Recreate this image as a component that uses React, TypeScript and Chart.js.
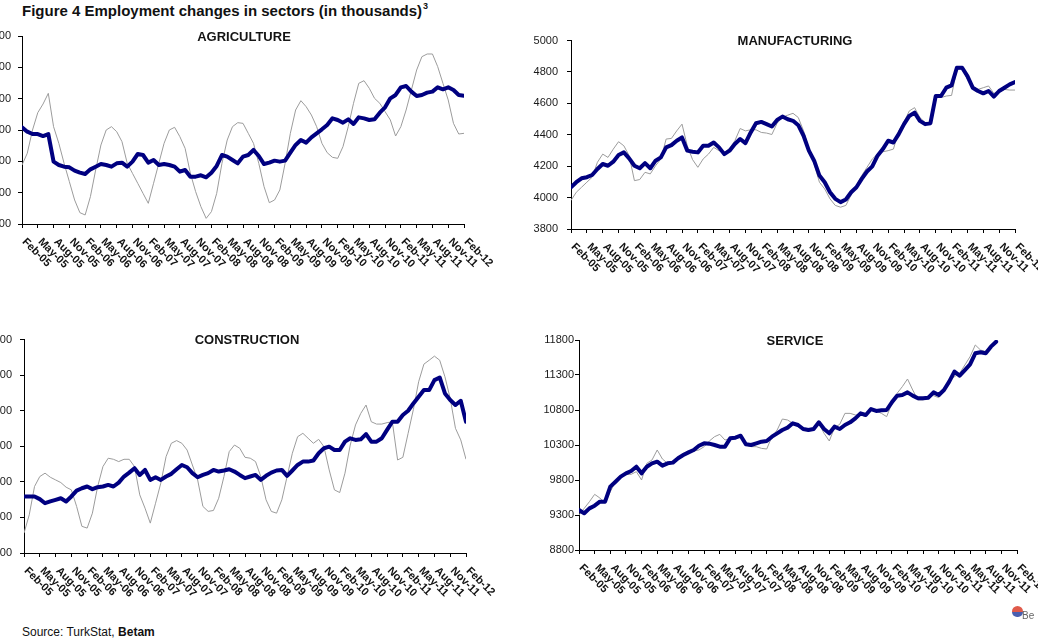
import React, { useEffect, useRef } from 'react';
import { Chart, registerables } from 'chart.js';

Chart.register(...registerables);

const quarterLabels = [
  'Feb-05', 'May-05', 'Aug-05', 'Nov-05', 'Feb-06', 'May-06', 'Aug-06', 'Nov-06',
  'Feb-07', 'May-07', 'Aug-07', 'Nov-07', 'Feb-08', 'May-08', 'Aug-08', 'Nov-08',
  'Feb-09', 'May-09', 'Aug-09', 'Nov-09', 'Feb-10', 'May-10', 'Aug-10', 'Nov-10',
  'Feb-11', 'May-11', 'Aug-11', 'Nov-11', 'Feb-12',
];

// Agriculture (thousands): raw and seasonally adjusted, monthly Feb-05 .. Feb-12
const agriRaw = [
  4941, 5128, 5500, 5777, 5915, 6085, 5553, 5287, 4968, 4676,
  4383, 4181, 4144, 4436, 4862, 5261, 5500, 5553, 5473, 5314,
  4968, 4808, 4649, 4489, 4330, 4649, 4968, 5287, 5500, 5543,
  5394, 5207, 4808, 4516, 4277, 4090, 4197, 4489, 4968, 5340,
  5553, 5617, 5606, 5447, 5287, 4968, 4596, 4340, 4383, 4543,
  4968, 5447, 5819, 5968, 5872, 5739, 5553, 5287, 5138, 5064,
  5048, 5234, 5553, 5926, 6245, 6287, 6165, 6005, 5926, 5793,
  5660, 5404, 5553, 5819, 6138, 6457, 6670, 6713, 6713, 6511,
  6245, 5979, 5606, 5436, 5447,
];
const agriSA = [
  5543, 5473, 5436, 5436, 5404, 5436, 4995, 4941, 4915, 4904,
  4851, 4819, 4798, 4872, 4915, 4957, 4941, 4915, 4968, 4979,
  4915, 4995, 5117, 5101, 4979, 5021, 4941, 4957, 4941, 4915,
  4835, 4862, 4755, 4755, 4777, 4745, 4819, 4926, 5101, 5075,
  5021, 4968, 5075, 5101, 5181, 5085, 4957, 4979, 5011, 4995,
  5011, 5138, 5261, 5340, 5298, 5383, 5447, 5511, 5580, 5686,
  5660, 5617, 5670, 5596, 5702, 5686, 5660, 5670, 5777, 5862,
  6005, 6059, 6181, 6202, 6112, 6043, 6059, 6096, 6112, 6181,
  6149, 6181, 6138, 6059, 6048,
];

// Manufacturing
const manuRaw = [
  3982, 4034, 4066, 4098, 4130, 4225, 4277, 4256, 4309, 4356,
  4330, 4267, 4108, 4115, 4161, 4151, 4203, 4246, 4373, 4377,
  4425, 4468, 4330, 4242, 4193, 4246, 4277, 4320, 4299, 4288,
  4313, 4362, 4440, 4425, 4432, 4432, 4415, 4411, 4402, 4474,
  4510, 4525, 4537, 4510, 4425, 4309, 4214, 4098, 4055, 3992,
  3950, 3939, 3950, 4017, 4077, 4140, 4193, 4246, 4277, 4292,
  4299, 4309, 4425, 4482, 4552, 4573, 4510, 4478, 4482, 4647,
  4637, 4647, 4651, 4816, 4820, 4753, 4711, 4689, 4700, 4711,
  4664, 4672, 4689, 4685, 4685,
];
const manuSA = [
  4066, 4098, 4123, 4130, 4144, 4182, 4214, 4203, 4229, 4271,
  4288, 4250, 4203, 4187, 4220, 4187, 4235, 4256, 4320, 4334,
  4362, 4383, 4299, 4292, 4288, 4330, 4330, 4351, 4320, 4277,
  4299, 4341, 4373, 4347, 4415, 4474, 4482, 4468, 4453, 4495,
  4516, 4499, 4489, 4461, 4394, 4299, 4235, 4140, 4098, 4034,
  3992, 3971, 3988, 4034, 4066, 4119, 4166, 4199, 4267, 4309,
  4362, 4351, 4404, 4468, 4520, 4541, 4489, 4468, 4474, 4647,
  4647, 4700, 4715, 4827, 4827, 4774, 4700, 4679, 4664, 4679,
  4643, 4679, 4700, 4721, 4736,
];

// Construction
const consRaw = [
  912, 1015, 1174, 1230, 1249, 1226, 1211, 1196, 1170, 1155,
  1062, 950, 940, 1024, 1174, 1286, 1333, 1327, 1314, 1327,
  1327, 1286, 1127, 1052, 968, 1080, 1193, 1342, 1417, 1432,
  1417, 1379, 1295, 1211, 1062, 1034, 1039, 1108, 1230, 1370,
  1407, 1389, 1338, 1333, 1314, 1230, 1099, 1034, 1024, 1099,
  1230, 1361, 1454, 1473, 1445, 1417, 1439, 1398, 1267, 1155,
  1140, 1249, 1407, 1520, 1585, 1632, 1538, 1525, 1525, 1533,
  1538, 1323, 1338, 1473, 1607, 1763, 1862, 1884, 1907, 1884,
  1791, 1669, 1501, 1436, 1327,
];
const consSA = [
  1118, 1118, 1118, 1103, 1080, 1090, 1099, 1108, 1090, 1118,
  1151, 1164, 1174, 1159, 1170, 1174, 1183, 1174, 1196, 1230,
  1252, 1277, 1239, 1267, 1211, 1226, 1211, 1230, 1245, 1271,
  1295, 1282, 1249, 1226, 1239, 1249, 1267, 1258, 1264, 1271,
  1258, 1239, 1221, 1230, 1239, 1211, 1234, 1252, 1264, 1267,
  1234, 1264, 1295, 1314, 1314, 1320, 1361, 1389, 1398, 1379,
  1379, 1426, 1445, 1436, 1439, 1469, 1426, 1426, 1445, 1492,
  1538, 1538, 1576, 1600, 1641, 1679, 1716, 1716, 1772, 1787,
  1697, 1660, 1632, 1656, 1538,
];

// Service (ends Oct-11)
const servRaw = [
  9300, 9395, 9490, 9595, 9543, 9467, 9633, 9776, 9848, 9881,
  9881, 9919, 9800, 10038, 10086, 10229, 10100, 10038, 10062, 10119,
  10181, 10195, 10214, 10229, 10276, 10357, 10419, 10452, 10371, 10395,
  10405, 10443, 10300, 10276, 10276, 10252, 10243, 10419, 10514, 10671,
  10657, 10610, 10562, 10514, 10514, 10529, 10610, 10467, 10357, 10548,
  10595, 10752, 10752, 10729, 10729, 10705, 10800, 10786, 10752, 10705,
  10895, 11038, 11133, 11243, 11086, 10943, 10943, 11005, 11005, 10976,
  11062, 11229, 11276, 11324, 11443, 11562, 11729, 11657, 11633, 11705,
  11776,
];
const servSA = [
  9371, 9324, 9395, 9433, 9490, 9490, 9705, 9776, 9848, 9895,
  9929, 9990, 9895, 9990, 10038, 10062, 10005, 10038, 10048, 10110,
  10157, 10195, 10229, 10290, 10324, 10319, 10300, 10276, 10276, 10395,
  10405, 10433, 10310, 10300, 10324, 10348, 10357, 10419, 10467, 10514,
  10548, 10610, 10586, 10529, 10514, 10529, 10624, 10529, 10467, 10562,
  10529, 10586, 10624, 10681, 10752, 10729, 10814, 10786, 10795, 10800,
  10910, 11005, 11014, 11052, 11005, 10967, 10967, 10976, 11052, 11014,
  11086, 11205, 11348, 11290, 11371, 11452, 11610, 11624, 11610, 11705,
  11776,
];

const FONT = '"Liberation Sans", Arial, Helvetica, sans-serif';
const MONTHS_PER_LABEL = 3;
const LAST_INDEX = (quarterLabels.length - 1) * MONTHS_PER_LABEL;

const decorPlugin = {
  id: 'panelDecor',
  afterDraw(chart: any, _args: any, opts: any) {
    const { ctx, chartArea, scales } = chart;
    ctx.save();
    ctx.fillStyle = '#141414';
    ctx.font = `bold 13px ${FONT}`;
    ctx.textAlign = 'center';
    ctx.textBaseline = 'middle';
    ctx.fillText(opts.title, (chartArea.left + chartArea.right) / 2 + (opts.titleDx || 0), chartArea.top + 1);

    const xs = scales.x;
    ctx.font = `bold 11px ${FONT}`;
    ctx.fillStyle = '#111';
    ctx.textAlign = 'left';
    ctx.textBaseline = 'middle';
    quarterLabels.forEach((lab, k) => {
      const x = xs.getPixelForValue(k * MONTHS_PER_LABEL);
      ctx.save();
      ctx.translate(x + 2, xs.top + 16);
      ctx.rotate(Math.PI / 4);
      ctx.fillText(lab, 0, 0);
      ctx.restore();
    });
    ctx.restore();
  },
};

type PanelProps = {
  title: string;
  raw: number[];
  sa: number[];
  yMin: number;
  yMax: number;
  yStep: number;
  left: number;
  top: number;
  right: number;
  bottom: number;
  labelPad: number;
  titleDx: number;
};

function Panel(p: PanelProps) {
  const ref = useRef<HTMLCanvasElement>(null);
  const YW = 60;
  const PT = 14;
  const PR = 44;
  const XH = 60;
  const cLeft = p.left - YW;
  const cTop = p.top - PT;
  const w = Math.round(p.right + PR - cLeft);
  const h = Math.round(p.bottom + XH - cTop);

  useEffect(() => {
    if (!ref.current) return;
    const toPts = (arr: number[]) => arr.map((y, i) => ({ x: i, y }));
    const chart = new Chart(ref.current, {
      type: 'line',
      data: {
        datasets: [
          {
            data: toPts(p.sa),
            borderColor: '#000080',
            borderWidth: 4,
            pointRadius: 0,
            borderJoinStyle: 'round',
            borderCapStyle: 'round',
            tension: 0,
          },
          {
            data: toPts(p.raw),
            borderColor: '#9c9c9c',
            borderWidth: 1,
            pointRadius: 0,
            tension: 0,
          },
        ],
      },
      options: {
        animation: false,
        responsive: false,
        maintainAspectRatio: false,
        events: [],
        layout: { padding: { top: PT, right: PR, bottom: 0, left: 0 } },
        plugins: {
          legend: { display: false },
          tooltip: { enabled: false },
          title: { display: false },
          panelDecor: { title: p.title, titleDx: p.titleDx },
        } as any,
        scales: {
          x: {
            type: 'linear',
            min: 0,
            max: LAST_INDEX,
            afterFit: (s: any) => { s.height = XH; },
            ticks: { display: false, stepSize: MONTHS_PER_LABEL, autoSkip: false, maxTicksLimit: 200 },
            grid: { drawOnChartArea: false, drawTicks: true, tickLength: 4, color: '#000', lineWidth: 1 },
            border: { display: true, color: '#000', width: 1 },
          },
          y: {
            type: 'linear',
            min: p.yMin,
            max: p.yMax,
            afterFit: (s: any) => { s.width = YW; },
            ticks: {
              stepSize: p.yStep,
              padding: p.labelPad,
              color: '#1a1a1a',
              font: { family: FONT, size: 11 },
              callback: (v: any) => String(v),
            },
            grid: { drawOnChartArea: false, drawTicks: true, tickLength: 4, color: '#000', lineWidth: 1 },
            border: { display: true, color: '#000', width: 1 },
          },
        },
      } as any,
      plugins: [decorPlugin as any],
    });
    return () => chart.destroy();
  }, []);

  return (
    <canvas
      ref={ref}
      width={w}
      height={h}
      style={{ position: 'absolute', left: cLeft, top: cTop, width: w, height: h }}
    />
  );
}

export default function App() {
  return (
    <div
      style={{
        position: 'absolute',
        left: 0,
        top: 0,
        width: 1038,
        height: 644,
        overflow: 'hidden',
        background: '#fff',
        fontFamily: FONT,
        color: '#111',
      }}
    >
      <div style={{ position: 'absolute', left: 22, top: 2, fontSize: 15, lineHeight: '17px', fontWeight: 'bold', whiteSpace: 'nowrap' }}>
        Figure 4 Employment changes in sectors (in thousands)
        <span style={{ fontSize: 9, position: 'relative', top: -7, marginLeft: 1 }}>3</span>
      </div>

      <Panel title="AGRICULTURE" raw={agriRaw} sa={agriSA} yMin={4000} yMax={7000} yStep={500}
        left={22} top={36} right={464} bottom={224} labelPad={7} titleDx={1} />
      <Panel title="MANUFACTURING" raw={manuRaw} sa={manuSA} yMin={3800} yMax={5000} yStep={200}
        left={571} top={39} right={1015} bottom={229} labelPad={9} titleDx={2} />
      <Panel title="CONSTRUCTION" raw={consRaw} sa={consSA} yMin={800} yMax={2000} yStep={200}
        left={24} top={339} right={466} bottom={553} labelPad={8} titleDx={2} />
      <Panel title="SERVICE" raw={servRaw} sa={servSA} yMin={8800} yMax={11800} yStep={500}
        left={579} top={340} right={1017} bottom={550} labelPad={1} titleDx={-3} />

      <div style={{ position: 'absolute', left: 1012, top: 606, width: 12, height: 12 }}>
        <div style={{ position: 'absolute', left: 0, top: 0, width: 11, height: 6, borderRadius: '6px 6px 0 0', background: '#e05a4a' }} />
        <div style={{ position: 'absolute', left: 0, top: 6, width: 11, height: 5, borderRadius: '0 0 6px 6px', background: '#4a5fb0' }} />
      </div>
      <div style={{ position: 'absolute', left: 1022, top: 610, fontSize: 10, color: '#666', lineHeight: '12px' }}>Be</div>

      <div style={{ position: 'absolute', left: 22, top: 625, fontSize: 12, lineHeight: '14px', whiteSpace: 'nowrap' }}>
        Source: TurkStat, <b>Betam</b>
      </div>
    </div>
  );
}
